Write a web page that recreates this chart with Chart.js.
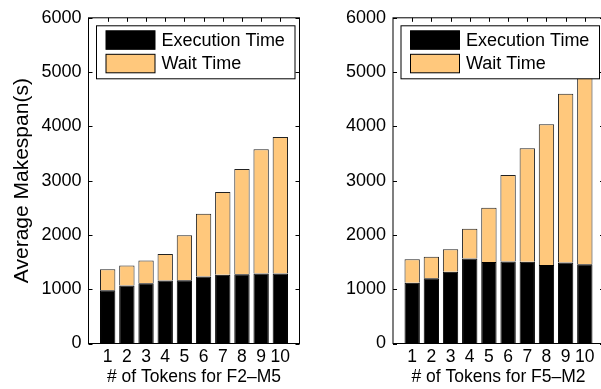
<!DOCTYPE html>
<html>
<head>
<meta charset="utf-8">
<script src="https://cdn.jsdelivr.net/npm/chart.js@4/dist/chart.umd.min.js"></script>
<style>
  body { margin: 0; width: 601px; height: 389px; overflow: hidden; background: #fff; position: relative; }
  canvas { position: absolute; top: 0; }
  #left { left: 0; }
  #right { left: 310px; }
</style>
</head>
<body>
<canvas id="left" width="310" height="389"></canvas>
<canvas id="right" width="300" height="389"></canvas>
<script>
// tokens on the x axis
const tokens = [1, 2, 3, 4, 5, 6, 7, 8, 9, 10];

// F2-M5 (left)
const execF2M5 = [980, 1070, 1110, 1160, 1165, 1235, 1265, 1275, 1290, 1290];
const waitF2M5 = [390, 365, 420, 490, 830, 1155, 1525, 1940, 2290, 2515];

// F5-M2 (right)
const execF5M2 = [1120, 1200, 1320, 1565, 1500, 1510, 1505, 1445, 1490, 1460];
const waitF5M2 = [430, 400, 415, 550, 1000, 1595, 2090, 2595, 3110, 3490];

const yTicks = [0, 1000, 2000, 3000, 4000, 5000, 6000];

const FONT = "'Liberation Sans', Arial, Helvetica, sans-serif";
const WAIT_COLOR = "#ffc87c";

// box around plot, inward ticks and legend inside the plot
const matlabLook = {
  id: "matlabLook",
  afterDraw(chart) {
    const ctx = chart.ctx;
    const a = chart.chartArea;
    const xs = chart.scales.x;
    const ys = chart.scales.y;
    ctx.save();
    ctx.strokeStyle = "#000";
    ctx.lineWidth = 1;
    ctx.beginPath();
    ys.ticks.forEach((t, i) => {
      const py = Math.round(ys.getPixelForTick(i)) + 0.5;
      ctx.moveTo(a.left, py); ctx.lineTo(a.left + 4, py);
      ctx.moveTo(a.right, py); ctx.lineTo(a.right - 4, py);
    });
    xs.ticks.forEach((t, i) => {
      const px = Math.round(xs.getPixelForTick(i)) + 0.5;
      ctx.moveTo(px, a.top); ctx.lineTo(px, a.top + 4);
      ctx.moveTo(px, a.bottom); ctx.lineTo(px, a.bottom - 4);
    });
    ctx.stroke();
    ctx.strokeRect(a.left, a.top, a.right - a.left, a.bottom - a.top);

    // legend
    const lx = a.left + 8, ly = a.top + 8;
    ctx.fillStyle = "#fff";
    ctx.fillRect(lx, ly, 198.5, 53);
    ctx.strokeRect(lx, ly, 198.5, 53);
    ctx.font = "18px " + FONT;
    ctx.textBaseline = "middle";
    chart.data.datasets.forEach((ds, i) => {
      const sy = ly + 5 + i * 23.5;
      ctx.fillStyle = ds.backgroundColor;
      ctx.fillRect(lx + 9.5, sy, 49, 18.5);
      ctx.strokeStyle = "#000";
      ctx.strokeRect(lx + 9.5, sy, 49, 18.5);
      ctx.fillStyle = "#000";
      ctx.fillText(ds.label, lx + 65, sy + 10);
    });
    ctx.restore();
  },
};

function makeChart(id, execData, waitData, xTitle, yTitle, yWidth, padRight) {
  new Chart(document.getElementById(id), {
    type: "bar",
    data: {
      datasets: [
        {
          label: "Execution Time",
          data: tokens.map((t, i) => ({ x: t, y: execData[i] })),
          backgroundColor: "#000",
          borderColor: "#000",
          borderWidth: 1,
        },
        {
          label: "Wait Time",
          data: tokens.map((t, i) => ({ x: t, y: waitData[i] })),
          backgroundColor: WAIT_COLOR,
          borderColor: "#222",
          borderWidth: 1,
        },
      ],
    },
    options: {
      responsive: false,
      animation: false,
      categoryPercentage: 1,
      barPercentage: 0.8,
      layout: { padding: { top: 15.5, right: padRight, left: 0, bottom: 0 } },
      plugins: { legend: { display: false }, tooltip: { enabled: false } },
      scales: {
        x: {
          type: "linear",
          stacked: true,
          offset: false,
          min: 0,
          max: 11,
          afterBuildTicks: (s) => { s.ticks = tokens.map((v) => ({ value: v })); },
          afterFit: (s) => { s.height = 45.5; },
          border: { display: false },
          grid: { display: false, drawTicks: false, offset: false },
          ticks: { color: "#000", font: { family: FONT, size: 17.5 }, padding: 3, maxRotation: 0, autoSkip: false, callback: (v) => String(v) },
          title: { display: true, text: xTitle, color: "#000", font: { family: FONT, size: 17.5 }, padding: { top: 0, bottom: 1 } },
        },
        y: {
          stacked: true,
          min: 0,
          max: 6000,
          afterBuildTicks: (s) => { s.ticks = yTicks.map((v) => ({ value: v })); },
          afterFit: (s) => { s.width = yWidth; },
          border: { display: false },
          grid: { display: false, drawTicks: false },
          ticks: { color: "#000", font: { family: FONT, size: 18 }, padding: 7, callback: (v) => String(v) },
          title: { display: !!yTitle, text: yTitle, color: "#000", font: { family: FONT, size: 21 }, padding: { top: 10, bottom: 0 } },
        },
      },
    },
    plugins: [matlabLook],
  });
}

makeChart("left", execF2M5, waitF2M5, "# of Tokens for F2\u2013M5", "Average Makespan(s)", 88.5, 10.5);
makeChart("right", execF5M2, waitF5M2, "# of Tokens for F5\u2013M2", "", 83, 6);
</script>
</body>
</html>
